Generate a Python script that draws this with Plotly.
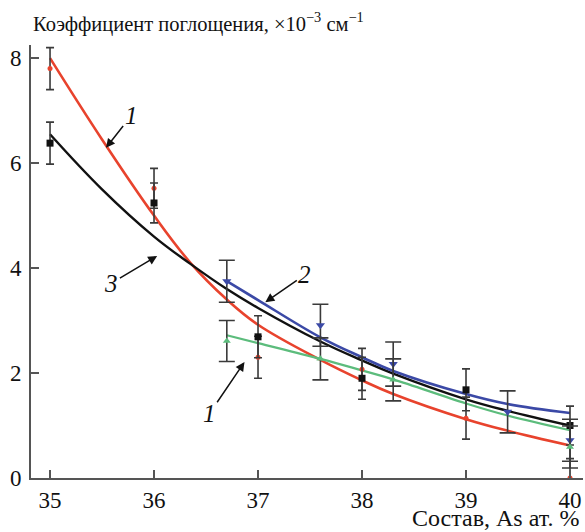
import plotly.graph_objects as go

# ---- data ----
x_main = [35, 36, 37, 38, 39, 40]
red_pts = [7.8, 5.52, 2.3, 2.07, 1.14, 0.0]
black_pts = [6.38, 5.24, 2.69, 1.9, 1.68, 1.0]
err_main = [0.4, 0.38, 0.4, 0.4, 0.4, 0.37]

x_sub = [36.7, 37.6, 38.3, 39.4, 40]
blue_pts = [3.75, 2.91, 2.17, 1.26, 0.72]
err_blue = [0.4, 0.4, 0.42, 0.4, 0.4]

x_green = [36.7, 37.6, 38.3, 40]
green_pts = [2.61, 2.27, 1.87, 0.59]
err_green = [0.39, 0.4, 0.4, 0.4]

# fitted curves
x_fit_main = [35, 35.5, 36, 36.35, 36.7, 37, 37.6, 38, 38.3, 39, 39.4, 40]
red_fit = [8.0, 6.45, 5.0, 4.1, 3.4, 2.92, 2.25, 1.86, 1.6, 1.12, 0.9, 0.62]
black_fit = [6.55, 5.5, 4.6, 4.08, 3.6, 3.24, 2.6, 2.24, 1.99, 1.5, 1.28, 1.0]
x_fit_sub = [36.7, 37, 37.6, 38, 38.3, 39, 39.4, 40]
blue_fit = [3.75, 3.39, 2.68, 2.3, 2.04, 1.6, 1.41, 1.24]
green_fit = [2.72, 2.57, 2.27, 2.05, 1.88, 1.42, 1.19, 0.91]

x_ticks = [35, 36, 37, 38, 39, 40]
y_ticks = [0, 2, 4, 6, 8]

RED = "#e8432d"
BLUE = "#3b49a6"
GREEN = "#5cbc7c"
BLACK = "#111111"
ERR = "#3a3a3a"
FONT = "Times New Roman"

fig = go.Figure()

# curves
fig.add_trace(go.Scatter(x=x_fit_main, y=red_fit, mode="lines",
                         line=dict(color=RED, width=2.6, shape="spline", smoothing=1.1), hoverinfo="skip"))
fig.add_trace(go.Scatter(x=x_fit_main, y=black_fit, mode="lines",
                         line=dict(color=BLACK, width=2.4, shape="spline", smoothing=1.1), hoverinfo="skip"))
fig.add_trace(go.Scatter(x=x_fit_sub, y=blue_fit, mode="lines",
                         line=dict(color=BLUE, width=2.6, shape="spline", smoothing=1.1), hoverinfo="skip"))
fig.add_trace(go.Scatter(x=x_fit_sub, y=green_fit, mode="lines",
                         line=dict(color=GREEN, width=2.2, shape="spline", smoothing=1.1), hoverinfo="skip"))

# points with error bars
fig.add_trace(go.Scatter(x=x_main, y=red_pts, mode="markers",
                         marker=dict(color=RED, size=5, symbol="circle"),
                         error_y=dict(type="data", array=err_main, color=ERR, thickness=1.6, width=4)))
fig.add_trace(go.Scatter(x=x_main, y=black_pts, mode="markers",
                         marker=dict(color=BLACK, size=7, symbol="square"),
                         error_y=dict(type="data", array=err_main, color=ERR, thickness=1.6, width=4)))
fig.add_trace(go.Scatter(x=x_sub, y=blue_pts, mode="markers",
                         marker=dict(color=BLUE, size=8, symbol="triangle-down"),
                         error_y=dict(type="data", array=err_blue, color=ERR, thickness=1.6, width=8)))
fig.add_trace(go.Scatter(x=x_green, y=green_pts, mode="markers",
                         marker=dict(color=GREEN, size=7, symbol="triangle-up"),
                         error_y=dict(type="data", array=err_green, color=ERR, thickness=1.6, width=8)))

# curve labels with arrows
labels = [
    ("1", 35.538, 6.29, 35.78, 6.90),
    ("3", 36.03, 4.23, 35.59, 3.71),
    ("2", 37.07, 3.35, 37.45, 3.87),
    ("1", 36.87, 2.21, 36.53, 1.22),
]
for txt, tx, ty, lx, ly in labels:
    fig.add_annotation(x=tx, y=ty, ax=lx, ay=ly, xref="x", yref="y", axref="x", ayref="y",
                       text="<i>%s</i>" % txt, showarrow=True, arrowhead=2, arrowsize=1.2,
                       arrowwidth=1.5, arrowcolor="#111", standoff=0,
                       font=dict(family=FONT, size=25, color="#111"))

# titles
fig.add_annotation(xref="paper", yref="paper", x=0, y=1, xanchor="left", yanchor="bottom",
                   xshift=0, yshift=7, showarrow=False,
                   text="Коэффициент поглощения, ×10<sup>−3</sup> см<sup>−1</sup>",
                   font=dict(family=FONT, size=20.5, color="#111"))
fig.add_annotation(xref="paper", yref="paper", x=1, y=0, xanchor="right", yanchor="bottom",
                   xshift=-2, yshift=-55, showarrow=False,
                   text="Состав, As ат. %",
                   font=dict(family=FONT, size=24, color="#111"))

axis_common = dict(showgrid=False, zeroline=False, showline=True, linecolor="#555", linewidth=2,
                   ticks="inside", ticklen=8, tickwidth=1.5, tickcolor="#555",
                   tickfont=dict(family=FONT, size=23, color="#111"))

fig.update_xaxes(range=[34.817, 40.125], tickvals=x_ticks, ticktext=[str(t) for t in x_ticks],
                 ticklabelstandoff=0, **axis_common)
fig.update_yaxes(range=[0, 8.25], tickvals=y_ticks, ticktext=[str(t) for t in y_ticks],
                 ticklabelstandoff=3, **axis_common)

fig.update_layout(width=585, height=532, margin=dict(l=31, r=2, t=45, b=54),
                  plot_bgcolor="white", paper_bgcolor="white", showlegend=False,
                  font=dict(family=FONT))

fig.write_html("out.html")
